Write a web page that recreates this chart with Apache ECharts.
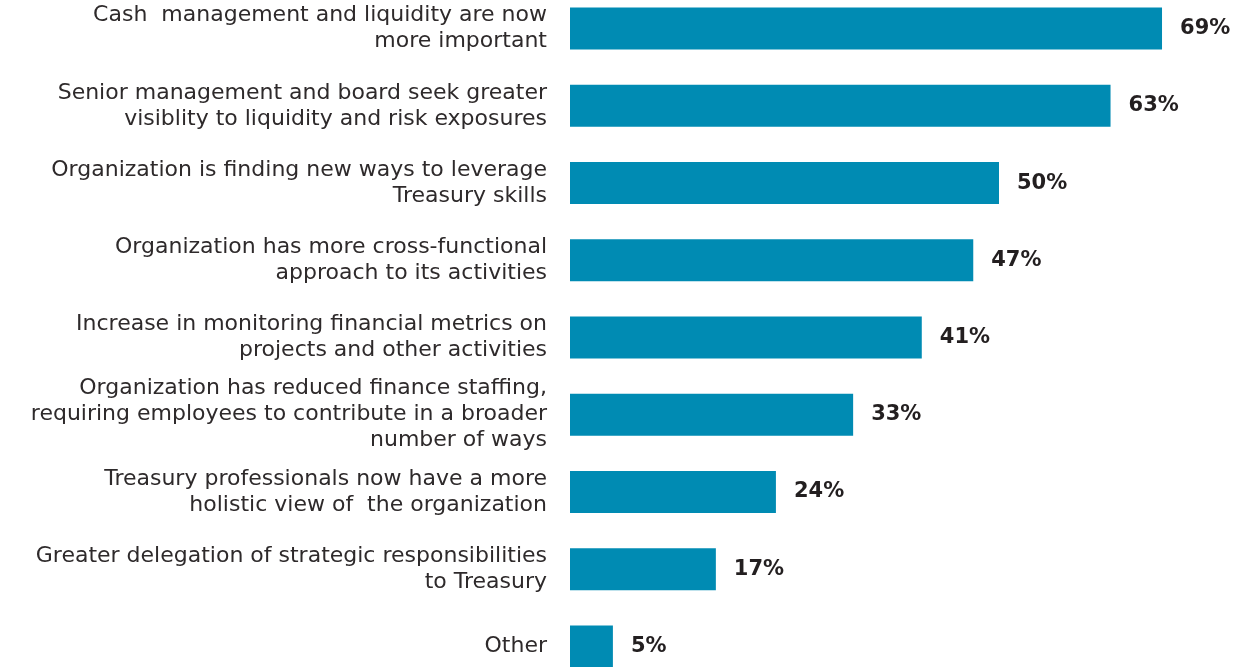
<!DOCTYPE html>
<html>
<head>
<meta charset="utf-8">
<script src="https://cdn.jsdelivr.net/npm/echarts@6/dist/echarts.min.js"></script>
<style>
  html, body { margin: 0; padding: 0; background: #ffffff; overflow: hidden; }
  body { position: relative; width: 1234px; height: 667px; }
  /* the plot runs past the bottom edge so the last bar is cut off */
  #chart { position: absolute; left: 0; top: -9.6px; width: 1234px; height: 695.25px; }
</style>
</head>
<body>
<div id="chart"></div>
<script>
// Reasons for Treasury's changing role (share of respondents, %)
const categories = [
  'Cash  management and liquidity are now\nmore important',
  'Senior management and board seek greater\nvisiblity to liquidity and risk exposures',
  'Organization is finding new ways to leverage\nTreasury skills',
  'Organization has more cross-functional\napproach to its activities',
  'Increase in monitoring financial metrics on\nprojects and other activities',
  'Organization has reduced finance staffing,\nrequiring employees to contribute in a broader\nnumber of ways',
  'Treasury professionals now have a more\nholistic view of  the organization',
  'Greater delegation of strategic responsibilities\nto Treasury',
  'Other'
];
const values = [69, 63, 50, 47, 41, 33, 24, 17, 5];

const chart = echarts.init(document.getElementById('chart'), null, { renderer: 'canvas' });
chart.setOption({
  animation: false,
  backgroundColor: '#ffffff',
  grid: { left: 570, right: 20.5, top: 0, bottom: 0, containLabel: false },
  xAxis: {
    type: 'value', min: 0, max: 75, show: false
  },
  yAxis: {
    type: 'category',
    inverse: true,
    data: categories,
    axisLine: { show: false },
    axisTick: { show: false },
    splitLine: { show: false },
    axisLabel: {
      margin: 23,
      align: 'right',
      color: '#2e2a2b',
      fontFamily: 'DejaVu Sans',
      fontSize: 22,
      lineHeight: 26
    }
  },
  series: [{
    type: 'bar',
    data: values,
    barWidth: 42,
    itemStyle: { color: '#008bb3' },
    label: {
      show: true,
      position: 'right',
      distance: 18,
      formatter: '{c}%',
      color: '#231f20',
      fontFamily: 'DejaVu Sans',
      fontWeight: 'bold',
      fontSize: 21
    }
  }]
});
</script>
</body>
</html>
